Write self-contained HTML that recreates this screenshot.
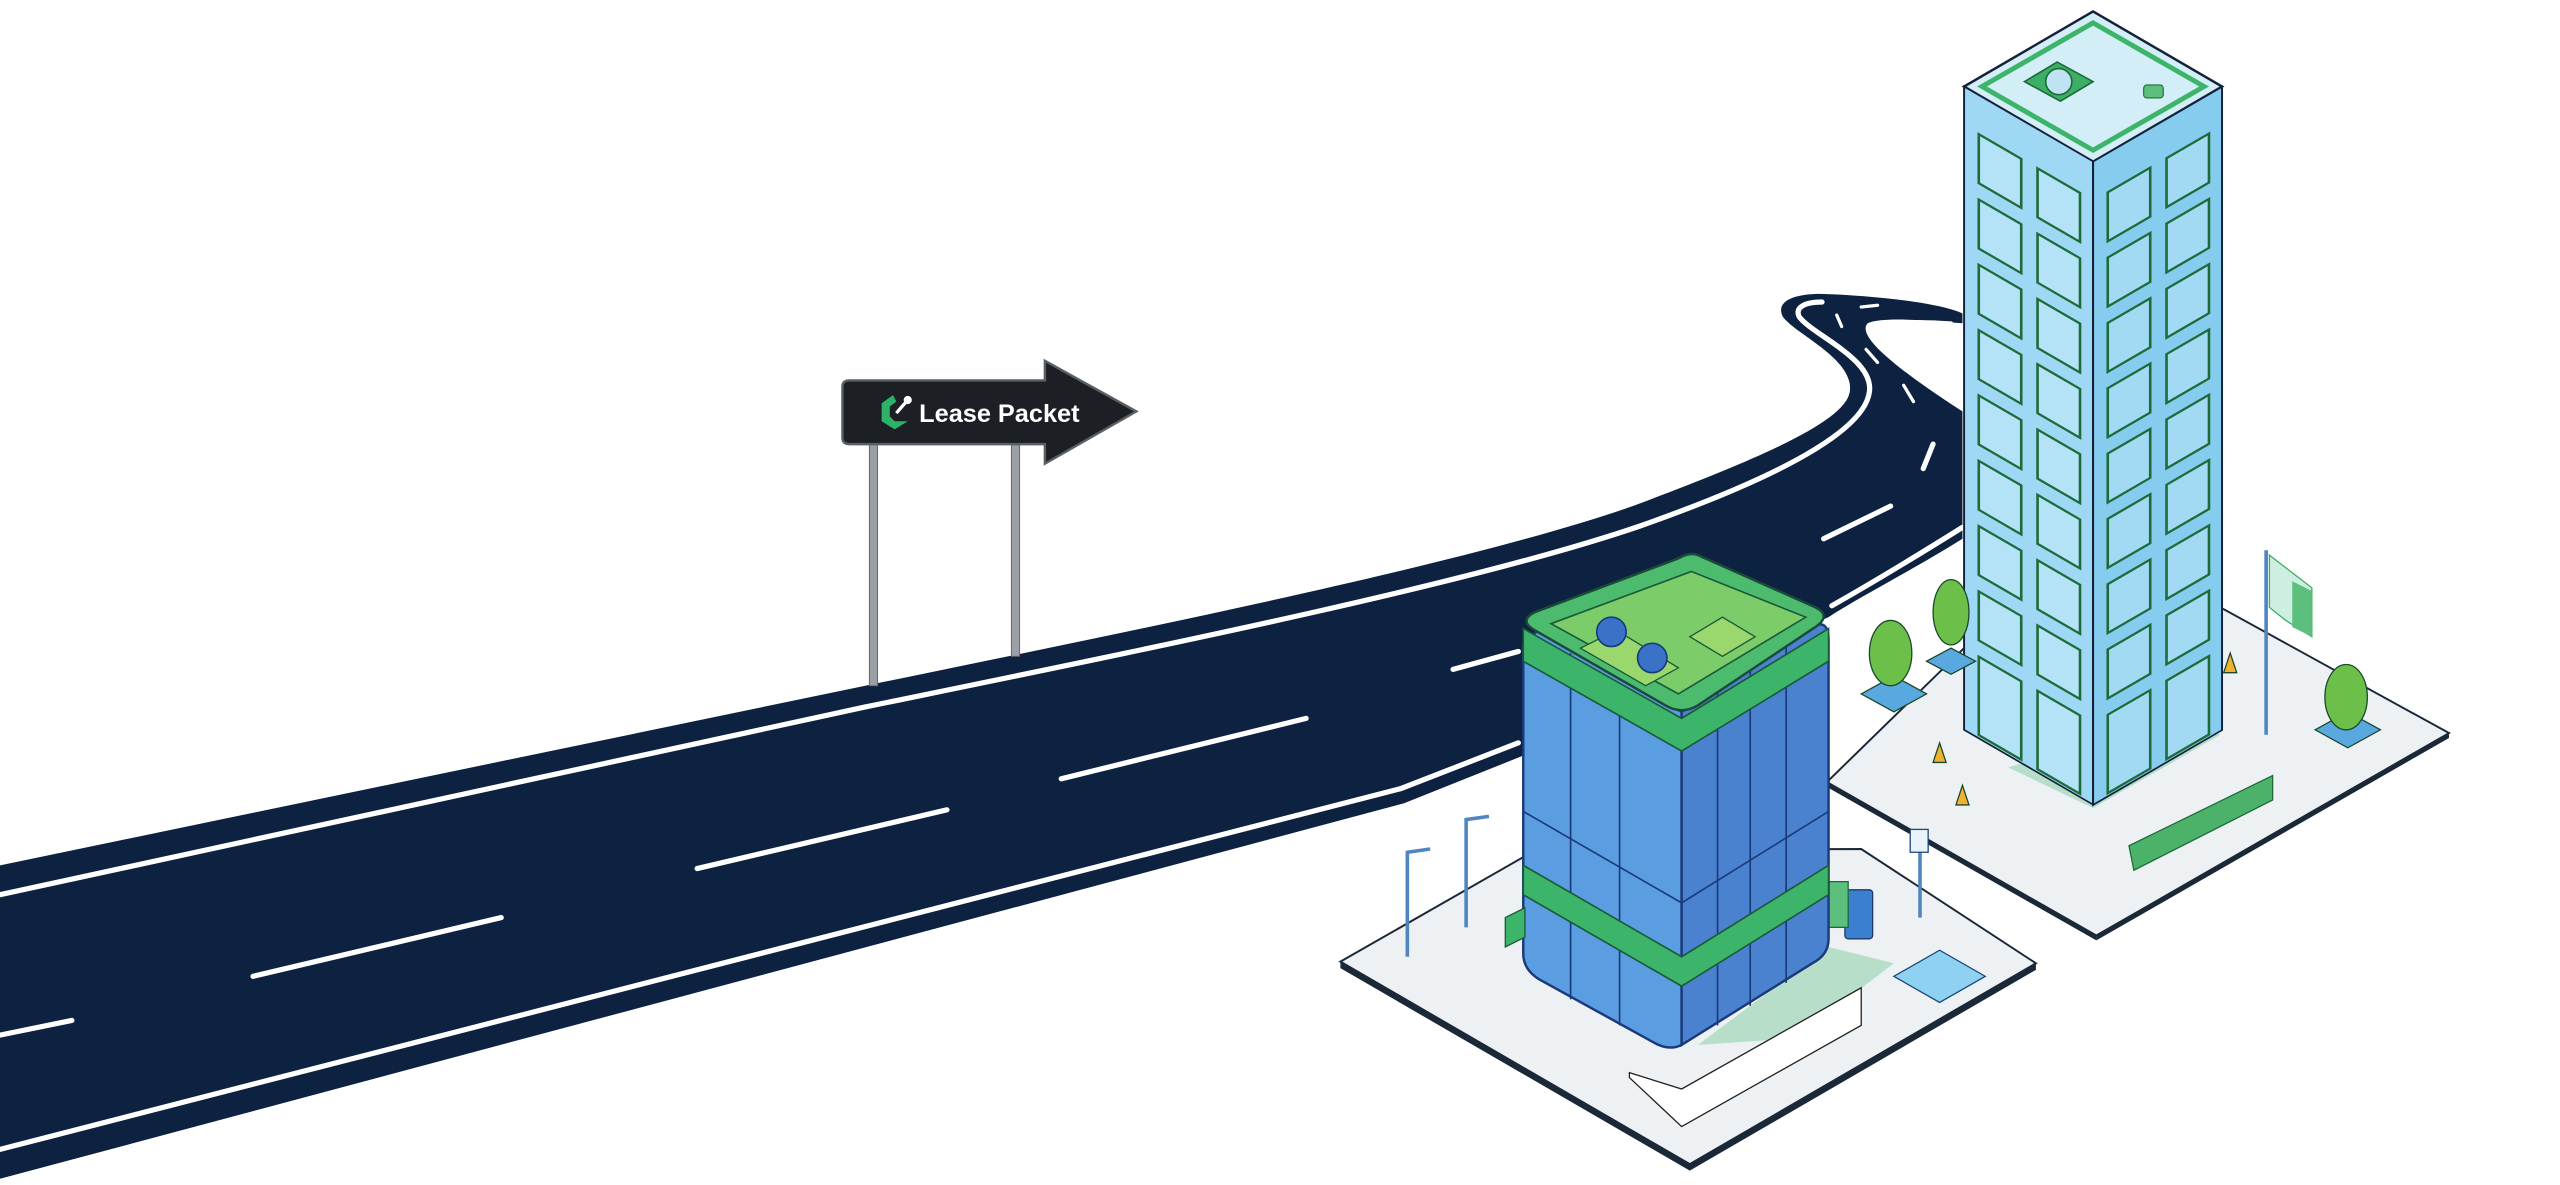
<!DOCTYPE html>
<html><head><meta charset="utf-8"><style>
html,body{margin:0;padding:0;background:#fff;}
svg{display:block;}
</style></head><body>
<svg width="2560" height="1185" viewBox="0 0 1568 725.8" preserveAspectRatio="none" xmlns="http://www.w3.org/2000/svg">
<rect width="1568" height="726" fill="#fff"/>
<!-- ROAD -->
<path d="M0,530 L530,420 C700,385 900,345 1000,310 C1080,280 1130,258 1133,240 C1136,220 1100,205 1092,194 C1087,184 1100,180 1115,180 C1150,181 1190,186 1202,192 L1202,198 C1180,196 1152,194 1144,198 C1136,206 1165,228 1202,252 L1202,330 C1170,350 1140,365 1120,378 L935,462 L860,492 L0,722 Z" fill="#0c2240"/>
<g fill="none" stroke="#fff" stroke-width="3.2" stroke-linecap="round">
<path d="M0,548 L530,433 C700,398 900,358 1005,322 C1090,292 1142,264 1145,240 C1148,220 1110,205 1102,194 C1099,188 1106,185 1116,185"/>
<path d="M0,704 L858,483 L930,455"/>
<path d="M1202,323 C1170,343 1145,358 1122,371"/>
<path d="M1202,247 C1170,226 1150,210 1152,202 C1157,196 1180,197 1195,198" stroke-width="2.4"/>
<path d="M0,634 L44,625 M155,598 L307,562 M427,532 L580,496 M650,477 L800,440 M890,410 L930,399 M1117,330 L1158,310 M1178,287 L1184,272" />
</g>
<g fill="none" stroke="#fff" stroke-width="2" stroke-linecap="round">
<path d="M1172,246 L1166,236 M1150,222 L1143,214 M1128,200 L1125,193 M1140,188 L1150,187"/>
</g>
<!-- SIGN -->
<rect x="532.5" y="270" width="5" height="150" fill="#9aa0a6" stroke="#666" stroke-width="0.6"/>
<rect x="619.5" y="270" width="5" height="132" fill="#9aa0a6" stroke="#666" stroke-width="0.6"/>
<path d="M520,233 L640,233 L640,221 L696,252 L640,284 L640,272 L520,272 Q516,272 516,268 L516,237 Q516,233 520,233 Z" fill="#1c2024" stroke="#5a5f63" stroke-width="1.5"/>
<path d="M547,242 L540,247 L540,258 L548,263 L556,258 L548,258 L545,255 L545,249 L549,246 Z" fill="#2db368"/>
<circle cx="556" cy="245" r="2.5" fill="#fff"/><line x1="556" y1="245" x2="549" y2="253" stroke="#fff" stroke-width="2"/>
<text x="563" y="258.5" font-family="Liberation Sans, sans-serif" font-weight="bold" font-size="15.5" fill="#fff">Lease Packet</text>
<!-- TOWER PLATFORM -->
<path d="M1119,479 L1205,395 L1360,372 L1500,449 L1284,573 Z" fill="#eef1f3" stroke="#1a2838" stroke-width="1.2"/>
<path d="M1284,573 L1500,449 L1500,452 L1284,576 Z" fill="#1a2838"/>
<path d="M1119,479 L1284,573 L1284,576 L1119,482 Z" fill="#1a2838"/>
<path d="M1230,470 L1282,495 L1360,450 L1330,440 Z" fill="#a9d9be" opacity="0.8"/>
<path d="M1304,518 L1392,475 L1392,490 L1307,533 Z" fill="#4cb26a" stroke="#1e6b3a" stroke-width="0.8"/>
<!-- TOWER -->
<path d="M1282,7 L1361,53 L1282,99 L1203,53 Z" fill="#d4eef8" stroke="#14213a" stroke-width="1.5"/>
<path d="M1282,14 L1350,53 L1282,92 L1214,53 Z" fill="none" stroke="#3cb46a" stroke-width="3"/>
<path d="M1260,38 L1282,50 L1262,62 L1240,50 Z" fill="#3cae66" stroke="#1e6b3a"/>
<circle cx="1261" cy="50" r="8" fill="#bfe3f3" stroke="#1e6b3a"/>
<rect x="1313" y="52" width="12" height="8" rx="2" fill="#5cbf7e" stroke="#1e6b3a" stroke-width="0.7"/>
<g transform="matrix(1 0.58 0 1 1203 53)">
<rect x="0" y="0" width="79" height="394" fill="#9ed8f4" stroke="#14213a" stroke-width="1.2"/>
<g fill="#b4e2f6" stroke="#1e6b3a" stroke-width="1.6">
<rect x="9" y="24" width="26" height="30"/><rect x="45" y="24" width="26" height="30"/>
<rect x="9" y="64" width="26" height="30"/><rect x="45" y="64" width="26" height="30"/>
<rect x="9" y="104" width="26" height="30"/><rect x="45" y="104" width="26" height="30"/>
<rect x="9" y="144" width="26" height="30"/><rect x="45" y="144" width="26" height="30"/>
<rect x="9" y="184" width="26" height="30"/><rect x="45" y="184" width="26" height="30"/>
<rect x="9" y="224" width="26" height="30"/><rect x="45" y="224" width="26" height="30"/>
<rect x="9" y="264" width="26" height="30"/><rect x="45" y="264" width="26" height="30"/>
<rect x="9" y="304" width="26" height="30"/><rect x="45" y="304" width="26" height="30"/>
<rect x="9" y="344" width="26" height="48"/><rect x="45" y="344" width="26" height="48"/>
</g></g>
<g transform="matrix(1 -0.58 0 1 1282 99)">
<rect x="0" y="0" width="79" height="394" fill="#86ccef" stroke="#14213a" stroke-width="1.2"/>
<g fill="#a2d9f3" stroke="#1e6b3a" stroke-width="1.6">
<rect x="9" y="24" width="26" height="30"/><rect x="45" y="24" width="26" height="30"/>
<rect x="9" y="64" width="26" height="30"/><rect x="45" y="64" width="26" height="30"/>
<rect x="9" y="104" width="26" height="30"/><rect x="45" y="104" width="26" height="30"/>
<rect x="9" y="144" width="26" height="30"/><rect x="45" y="144" width="26" height="30"/>
<rect x="9" y="184" width="26" height="30"/><rect x="45" y="184" width="26" height="30"/>
<rect x="9" y="224" width="26" height="30"/><rect x="45" y="224" width="26" height="30"/>
<rect x="9" y="264" width="26" height="30"/><rect x="45" y="264" width="26" height="30"/>
<rect x="9" y="304" width="26" height="30"/><rect x="45" y="304" width="26" height="30"/>
<rect x="9" y="344" width="26" height="48"/><rect x="45" y="344" width="26" height="48"/>
</g></g>
<line x1="1282" y1="99" x2="1282" y2="493" stroke="#14213a" stroke-width="1.2"/>
<g stroke="#1a4a2a" stroke-width="0.8">
<path d="M1140,425 L1160,414 L1180,425 L1160,436 Z" fill="#5aa8e0"/>
<ellipse cx="1158" cy="400" rx="13" ry="20" fill="#6cc04a"/>
<path d="M1180,405 L1195,397 L1210,405 L1195,413 Z" fill="#5aa8e0"/>
<ellipse cx="1195" cy="375" rx="11" ry="20" fill="#6cc04a"/>
<path d="M1418,447 L1438,436 L1458,447 L1438,458 Z" fill="#5aa8e0"/>
<ellipse cx="1437" cy="427" rx="13" ry="20" fill="#6cc04a"/>
<path d="M1184,467 L1188,455 L1192,467 Z" fill="#f0b030"/>
<path d="M1198,493 L1202,481 L1206,493 Z" fill="#f0b030"/>
<path d="M1362,412 L1366,400 L1370,412 Z" fill="#f0b030"/>
</g>
<line x1="1388" y1="337" x2="1388" y2="450" stroke="#4f86c0" stroke-width="2.2"/>
<path d="M1390,340 L1416,360 L1416,390 L1400,380 L1390,372 Z" fill="#cdeee0" stroke="#3cae66" stroke-width="0.8"/>
<path d="M1404,356 L1416,362 L1416,390 L1404,384 Z" fill="#5cbf7e"/>
<!-- SMALL PLATFORM -->
<path d="M821,589 L940,521 L1140,520 L1247,590 L1035,713 Z" fill="#eef1f3" stroke="#1a2838" stroke-width="1.2"/>
<path d="M821,589 L1035,713 L1247,590 L1247,594 L1035,717 L821,593 Z" fill="#1a2838"/>
<path d="M1040,640 L1100,636 L1160,590 L1120,580 Z" fill="#a9d9be" opacity="0.8"/>
<path d="M998,660 L1030,690 L1140,628 L1140,605 L1030,667 L998,657 Z" fill="#fff" stroke="#222" stroke-width="0.8"/>
<path d="M1160,598 L1188,582 L1216,598 L1188,614 Z" fill="#8fd1f0" stroke="#1e4a7a" stroke-width="0.8"/>
<g stroke="#4f86c0" stroke-width="2.2" fill="none">
<path d="M862,586 L862,522 L876,520"/><path d="M898,568 L898,502 L912,500"/><path d="M1176,562 L1176,512"/>
</g>
<rect x="1170" y="508" width="11" height="14" fill="#e8f4fa" stroke="#1e4a7a" stroke-width="0.8"/>
<rect x="1130" y="545" width="17" height="30" rx="2" fill="#3a7fd0" stroke="#1e3a6a" stroke-width="0.8"/>
<rect x="1120" y="540" width="12" height="28" fill="#5cbf7e" stroke="#1e6b3a" stroke-width="0.8"/>
<!-- SMALL BUILDING -->
<path d="M943,385 L1030,436 L1030,640 Q1022,644 1012,638 L943,600 Q933,594 933,584 L933,395 Z" fill="#5a9de0" stroke="#1a3a7a" stroke-width="1.5"/>
<path d="M1030,436 L1112,383 Q1120,380 1120,392 L1120,575 Q1120,585 1110,590 L1030,640 Z" fill="#4a82cf" stroke="#1a3a7a" stroke-width="1.5"/>
<g stroke="#1a3a7a" stroke-width="1" fill="none">
<path d="M962,400 L962,612 M992,418 L992,628 M1052,422 L1052,628 M1072,410 L1072,616 M1094,396 L1094,602"/>
<path d="M933,497 L1030,553 L1120,497"/>
</g>
<path d="M933,530 L1030,586 L1120,530 L1120,548 L1030,604 L933,548 Z" fill="#3cb46a" stroke="#1a5a3a" stroke-width="1"/>
<path d="M933,385 L1030,440 L1120,385 L1120,405 L1030,460 L933,405 Z" fill="#3cb46a" stroke="#1a5a3a" stroke-width="1"/>
<path d="M1040,340 Q1035,338 1028,342 L940,375 Q930,380 940,386 L1020,432 Q1030,438 1040,432 L1112,384 Q1122,377 1112,372 Z" fill="#4cbb6e" stroke="#1a4a3a" stroke-width="1.5"/>
<path d="M1036,350 L950,382 L1028,425 L1106,378 Z" fill="#7dcc6a" stroke="#1a5a3a" stroke-width="1"/>
<path d="M968,397 L1008,420 L1028,409 L990,386 Z" fill="#9ad86e" stroke="#1a5a3a" stroke-width="0.8"/>
<circle cx="987" cy="387" r="9" fill="#3a72c8" stroke="#1a3a7a"/>
<circle cx="1012" cy="403" r="9" fill="#3a72c8" stroke="#1a3a7a"/>
<path d="M1035,390 L1055,378 L1075,390 L1055,402 Z" fill="#9ad86e" stroke="#1a5a3a" stroke-width="0.8"/>
<path d="M922,562 L934,556 L934,574 L922,580 Z" fill="#3cb46a" stroke="#1a5a3a" stroke-width="0.8"/>
</svg>
</body></html>
